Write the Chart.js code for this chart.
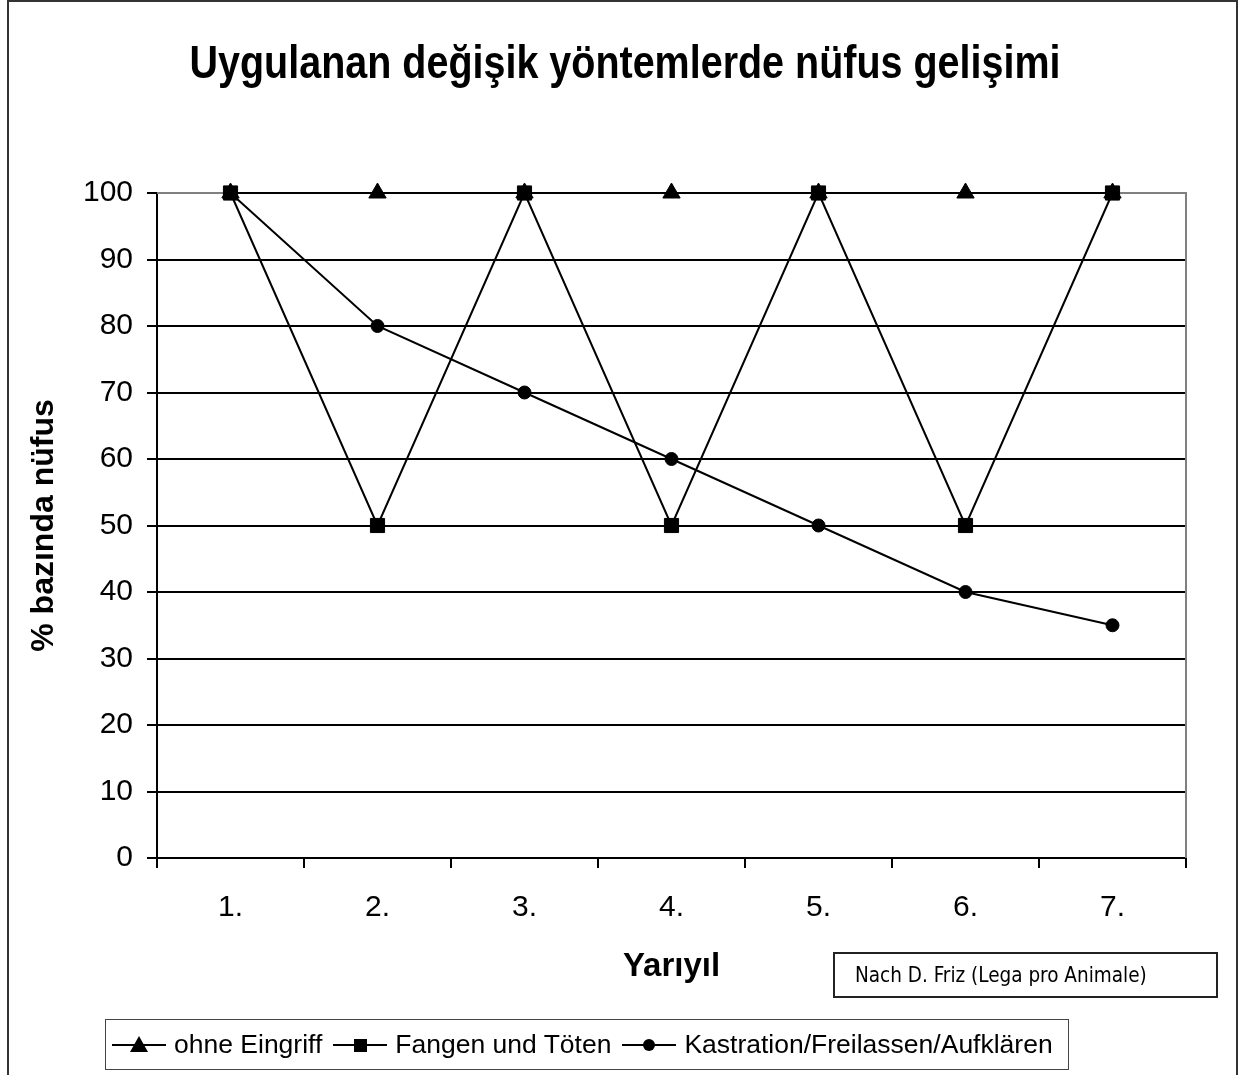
<!DOCTYPE html>
<html>
<head>
<meta charset="utf-8">
<script src="https://cdn.jsdelivr.net/npm/chart.js@4/dist/chart.umd.min.js"></script>
<style>
body{margin:0;background:#fff}
#wrap{position:relative;width:1240px;height:1075px;overflow:hidden;background:#fff}
#frame{position:absolute;left:7px;top:0;width:1227px;height:1120px;border:2px solid #333}
#chart{position:absolute;left:0;top:0}
#note{position:absolute;left:833px;top:952px;width:361px;height:42px;border:2px solid #222;
font-family:"DejaVu Sans Condensed","DejaVu Sans";font-size:20.5px;line-height:42px;padding-left:20px;box-sizing:content-box;color:#000}
#legend{position:absolute;left:105px;top:1019px;width:956px;height:49px;border:1px solid #444;
display:flex;align-items:center;padding-left:6px;box-sizing:content-box;
font-family:"Liberation Sans",Arial,sans-serif;font-size:26.5px;color:#000;white-space:nowrap}
#legend .item{display:flex;align-items:center;margin-right:11px}
#legend svg{margin-right:8px}
</style>
</head>
<body>
<div id="wrap">
<div id="frame"></div>
<canvas id="chart" width="1240" height="1075"></canvas>
<div id="note">Nach D. Friz (Lega pro Animale)</div>
<div id="legend"></div>
</div>
<script>
const semesters = ["1.","2.","3.","4.","5.","6.","7."]
const ohneEingriff = [100,100,100,100,100,100,100]
const fangenToeten = [100,50,100,50,100,50,100]
const kastration = [100,80,70,60,50,40,35]
const seriesNames = ["ohne Eingriff","Fangen und Töten","Kastration/Freilassen/Aufklären"]
const chartTitle = "Uygulanan değişik yöntemlerde nüfus gelişimi"

const plain = "'Liberation Sans',Arial,sans-serif"

// gray frame on top and right of the plot area, like the old Excel chart
const plotFrame = {
id:"plotFrame",
beforeDatasetsDraw(chart){
const {ctx, chartArea} = chart
ctx.save()
ctx.strokeStyle = "#808080"
ctx.lineWidth = 2
ctx.beginPath()
ctx.moveTo(chartArea.left, chartArea.top)
ctx.lineTo(chartArea.right, chartArea.top)
ctx.lineTo(chartArea.right, chartArea.bottom)
ctx.stroke()
ctx.restore()
}
}

// no narrow font installed, so the title is squeezed horizontally by hand
const narrowTitle = {
id:"narrowTitle",
afterDraw(chart, args, opts){
const ctx = chart.ctx
ctx.save()
ctx.font = "bold " + opts.size + "px " + plain
ctx.fillStyle = "#000"
ctx.textAlign = "center"
ctx.textBaseline = "alphabetic"
ctx.translate(opts.x, opts.y)
ctx.scale(opts.squeeze, 1)
ctx.fillText(opts.text, 0, 0)
ctx.restore()
}
}

function series(label, data, style, radius, order){
return {
label:label,
data:data,
borderColor:"#000",
backgroundColor:"#000",
borderWidth:2,
tension:0,
pointStyle:style,
pointRadius:radius,
pointBackgroundColor:"#000",
pointBorderColor:"#000",
pointBorderWidth:1,
clip:false,
order:order
}
}

const chart = new Chart(document.getElementById("chart"),{
type:"line",
data:{
labels:semesters,
datasets:[
series(seriesNames[0], ohneEingriff, "triangle", 10, 3),
series(seriesNames[1], fangenToeten, "rect", 10, 2),
series(seriesNames[2], kastration, "circle", 6.5, 1)
]
},
options:{
responsive:false,
animation:false,
devicePixelRatio:1,
layout:{padding:{left:20,right:54,top:193,bottom:0}},
plugins:{
legend:{display:false},
tooltip:{enabled:false},
title:{display:false},
narrowTitle:{text:chartTitle,size:47,squeeze:0.84,x:625,y:78}
},
scales:{
x:{
offset:true,
grid:{offset:true,drawOnChartArea:false,color:"#000",lineWidth:2,tickLength:10},
border:{color:"#000",width:2},
ticks:{color:"#000",font:{family:plain,size:30},padding:22},
title:{display:true,text:"Yarıyıl",color:"#000",font:{family:plain,size:33,weight:"bold",lineHeight:1.2},padding:{top:0,bottom:88}},
afterFit(s){ s.height = 217 }
},
y:{
min:0,
max:100,
ticks:{stepSize:10,color:"#000",font:{family:plain,size:30},padding:14},
grid:{
color:c=>c.tick && c.tick.value===100 ? "#808080" : "#000",
tickColor:"#000",
lineWidth:2,
tickLength:10
},
border:{color:"#000",width:2},
title:{display:true,text:"% bazında nüfus",color:"#000",font:{family:plain,size:32,weight:"bold",lineHeight:1.2},padding:{top:5,bottom:0}},
afterFit(s){ s.width = 137 }
}
}
},
plugins:[plotFrame, narrowTitle]
})

// legend with line + marker, built from the datasets
const legend = document.getElementById("legend")
chart.data.datasets.forEach(ds=>{
let mark = ""
if(ds.pointStyle==="triangle"){
mark = '<polygon points="27,10 36,26 18,26" fill="#000"/>'
}else if(ds.pointStyle==="rect"){
mark = '<rect x="21" y="13" width="13" height="13" fill="#000"/>'
}else{
mark = '<circle cx="27" cy="19" r="6" fill="#000"/>'
}
const item = document.createElement("div")
item.className = "item"
item.innerHTML = '<svg width="54" height="38"><line x1="0" y1="19" x2="54" y2="19" stroke="#000" stroke-width="2"/>'+mark+'</svg><span>'+ds.label+'</span>'
legend.appendChild(item)
})
</script>
</body>
</html>
